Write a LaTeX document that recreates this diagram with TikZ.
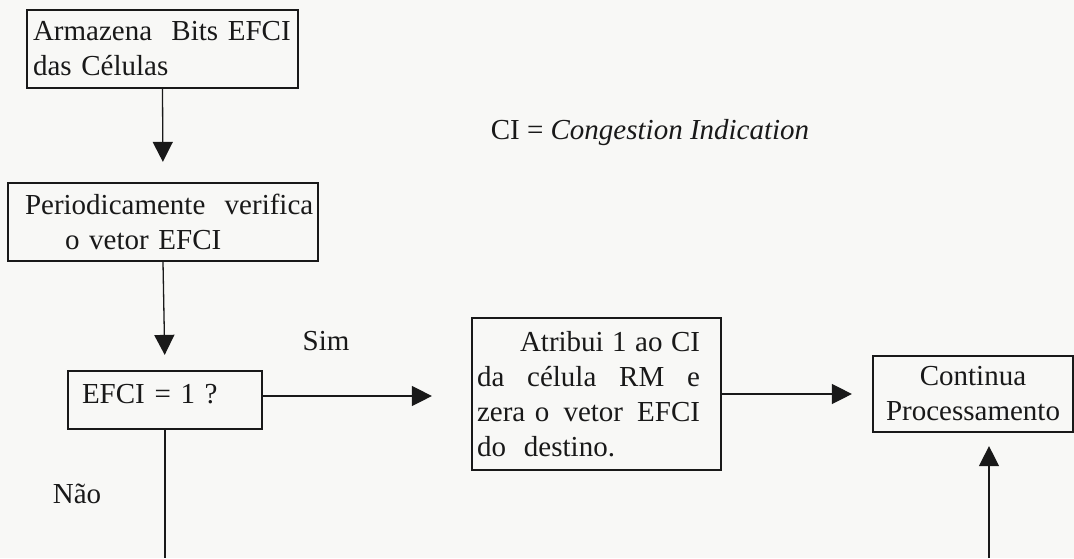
\documentclass[tikz,border=0pt]{standalone}
\usepackage{fontspec}
\setmainfont{Liberation Serif}
\usetikzlibrary{arrows.meta}
\definecolor{paper}{RGB}{248,248,246}
\definecolor{ink}{RGB}{25,25,25}
\newcommand{\fullline}[1]{\leavevmode\hbox to 223pt{#1}}
\begin{document}
\begin{tikzpicture}[x=1pt,y=-1pt,
  every node/.style={font=\fontsize{29}{35}\selectfont, text=ink},
  box/.style={draw=ink, line width=2.2pt, rectangle, inner ysep=0pt},
  flow/.style={draw=ink, line width=1.3pt},
  tip/.style={-{Triangle[width=20pt,length=20pt]}}
]
% page
\fill[paper] (0,0) rectangle (1074,558);
\useasboundingbox (0,0) rectangle (1074,558);

% process boxes
\node[box, minimum height=78pt, inner xsep=6pt, text width=259pt, align=left]
  (store) at (162.5,49) {\mbox{Armazena\ \ Bits EFCI}\\das Células};
\node[box, minimum height=78pt, inner xsep=17pt, text width=276pt, align=left]
  (check) at (163,222) {\mbox{Periodicamente\ \ verifica}\\\hspace*{40pt}o vetor EFCI};
\node[box, minimum height=58pt, minimum width=194pt, inner xsep=14pt, text width=166pt,
  align=left, text height=20pt, text depth=14pt]
  (test) at (165,400) {EFCI = 1 ?};
\node[box, minimum height=152pt, inner xsep=5pt, text width=239pt, align=left]
  (assign) at (596.5,394) {%
    \fullline{\hspace*{43pt}Atribui\hfil 1\hfil ao\hfil CI}\\
    \fullline{da\hfil célula\hfil RM\hfil e}\\
    \fullline{zera o\hfil vetor\hfil EFCI}\\
    do\hspace{18pt}destino.};
\node[box, minimum height=76pt, minimum width=200pt, align=center]
  (cont) at (973,394) {Continua\\Processamento};

% labels
\node (ci) at (650,133) {CI = \textit{Congestion Indication}};
\node (sim) at (326,341) {Sim};
\node (nao) at (77,494) {Não};

% loose ends at the lower edge
\coordinate (noEnd) at (165,558);
\coordinate (backEnd) at (989,558);

% connectors
\draw[flow, tip, shorten >=20pt] (store.south) -- (check.north);
\draw[flow, tip, shorten >=15pt] (check.south) -- (test.north);
\draw[flow, tip, shorten >=39pt] ([yshift=4pt]test.east) -- ([yshift=4pt]test.east -| assign.west);
\draw[flow, tip, shorten >=20pt] (assign.east) -- (cont.west);
\draw[flow] (test.south) -- (noEnd);
\draw[flow, tip, shorten >=13pt] (backEnd) -- (backEnd |- cont.south);
\end{tikzpicture}
\end{document}
